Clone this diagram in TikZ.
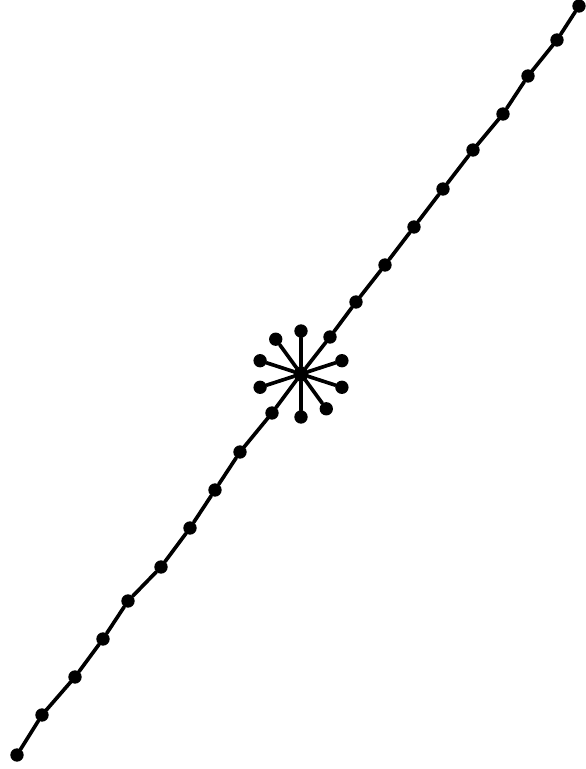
\documentclass[tikz,border=0pt]{standalone}
\usepackage{tikz}
\usetikzlibrary{positioning,calc}

\begin{document}
\begin{tikzpicture}[x=0.03cm,y=-0.03cm]

%--------------------------------------------------
% STYLES
%--------------------------------------------------

\tikzset{
bead/.style={
circle,
fill=black,
inner sep=0pt,
minimum size=0.4cm
},
hubbead/.style={
bead,
minimum size=0.46cm
},
strand/.style={
draw=black,
line width=0.11cm,
line cap=round
}
}

\useasboundingbox (0,0) rectangle (585,769);

%--------------------------------------------------
% LOWER CHAIN
%--------------------------------------------------

\foreach \n/\x/\y in {1/17/755,2/42/715,3/75/677,4/103/639,5/128/601,
                      6/161/567,7/190/528,8/215/490,9/240/452,10/272/413}
{
\node[bead] (b\n) at (\x,\y) {};
}

%--------------------------------------------------
% HUB
%--------------------------------------------------

\node[hubbead] (hub) at (301,374) {};

%--------------------------------------------------
% UPPER CHAIN
%--------------------------------------------------

\foreach \n/\x/\y in {11/330/337,12/356/302,13/385/265,14/414/227,15/443/189,
                      16/473/150,17/503/114,18/528/76,19/557/40,20/579/6}
{
\node[bead] (b\n) at (\x,\y) {};
}

%--------------------------------------------------
% STRAND
%--------------------------------------------------

\foreach \a [count=\b from 2] in {1,...,9}
{
\draw[strand] (b\a)--(b\b);
}

\draw[strand] (b10)--(hub);
\draw[strand] (hub)--(b11);

\foreach \a [count=\b from 12] in {11,...,19}
{
\draw[strand] (b\a)--(b\b);
}

%--------------------------------------------------
% SPOKES
%--------------------------------------------------

\foreach \ang [count=\k] in {90,-90,18,-18,54,-126,162,-162}
{
\node[bead] (s\k) at ($(hub)+(\ang:43)$) {};
\draw[strand] (hub)--(s\k);
}

\end{tikzpicture}
\end{document}
